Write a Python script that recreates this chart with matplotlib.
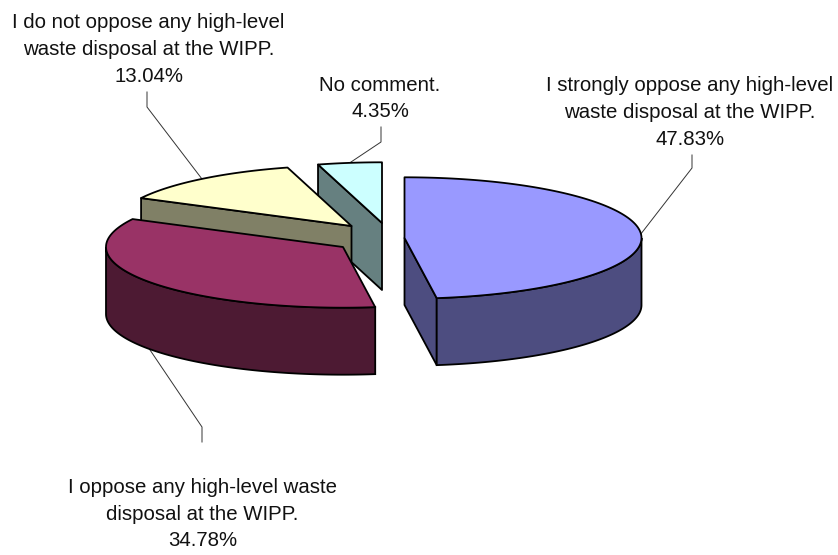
import numpy as np
import matplotlib
matplotlib.use("Agg")
import matplotlib.pyplot as plt
from matplotlib.patches import Polygon

labels = [
    "I strongly oppose any high-level\nwaste disposal at the WIPP.\n47.83%",
    "I oppose any high-level waste\ndisposal at the WIPP.\n34.78%",
    "I do not oppose any high-level\nwaste disposal at the WIPP.\n13.04%",
    "No comment.\n4.35%",
]
values = [47.83, 34.78, 13.04, 4.35]
top_colors = ["#9999FF", "#993366", "#FFFFCC", "#CCFFFF"]
side_colors = ["#4D4D80", "#4D1A33", "#808066", "#668080"]

# layout in pixels, the canvas is set up 1:1 with the output
RX, RY, DEPTH = 237, 60.7, 67
centers = [(404.5, 238), (343, 247), (351.5, 226), (382, 223)]
elbows = [(692, 168), (202, 427), (147, 107), (381, 142)]
ends = [(692, 155), (202, 442), (147, 92), (381, 127)]
text_pos = [(690, 112.5), (202.5, 514), (148.5, 49.5), (380, 98.5)]
EDGE = 1.3

plt.rcParams["font.family"] = ["Liberation Sans", "DejaVu Sans"]

fig = plt.figure(figsize=(8.38, 5.55), dpi=100)
ax = fig.add_axes([0, 0, 1, 1])
ax.set_xlim(0, 838)
ax.set_ylim(555, 0)
ax.axis("off")


def rim(c, a0, a1):
    # points on the top ellipse, angles clockwise from 12 o'clock
    t = np.radians(np.linspace(a0, a1, 120))
    return np.column_stack([c[0] + RX * np.sin(t), c[1] - RY * np.cos(t)])


def wall(c, a, color, z):
    # flat cut face from the apex out to the rim at angle a
    p = rim(c, a, a)[0]
    pts = [c, p, (p[0], p[1] + DEPTH), (c[0], c[1] + DEPTH)]
    ax.add_patch(Polygon(pts, closed=True, fc=color, ec="black", lw=EDGE, joinstyle="round", zorder=z))


cum = np.concatenate([[0], np.cumsum(values)]) / sum(values) * 360

# painted back to front
for z, i in enumerate([3, 2, 1, 0]):
    c = centers[i]
    a0, a1 = cum[i], cum[i + 1]
    base = z * 10 + 2

    if np.sin(np.radians(a0)) < -0.01:
        wall(c, a0, side_colors[i], base)
    if -np.sin(np.radians(a1)) < -0.01:
        wall(c, a1, side_colors[i], base)

    # outer skirt, only the part facing the viewer
    lo, hi = max(a0, 90), min(a1, 270)
    if hi > lo:
        front = rim(c, lo, hi)
        low = front[::-1] + [0, DEPTH]
        ax.add_patch(Polygon(np.vstack([front, low]), closed=True, fc=side_colors[i],
                             ec="black", lw=EDGE, zorder=base + 1))

    top = np.vstack([[c], rim(c, a0, a1)])
    ax.add_patch(Polygon(top, closed=True, fc=top_colors[i], ec="black", lw=EDGE,
                         joinstyle="round", zorder=base + 2))

    # leader from the middle of the slice rim
    mid = (a0 + a1) / 2
    s = rim(c, mid, mid)[0]
    if 90 < mid < 270:
        s = s + [0, DEPTH]
    ax.plot([s[0], elbows[i][0], ends[i][0]], [s[1], elbows[i][1], ends[i][1]],
            color="#333333", lw=0.7, zorder=1, solid_joinstyle="miter")

    ax.text(text_pos[i][0], text_pos[i][1], labels[i], ha="center", va="center",
            fontsize=14.65, color="#111111", linespacing=1.52, zorder=100)

fig.savefig("out.png", dpi=100, facecolor="white")
